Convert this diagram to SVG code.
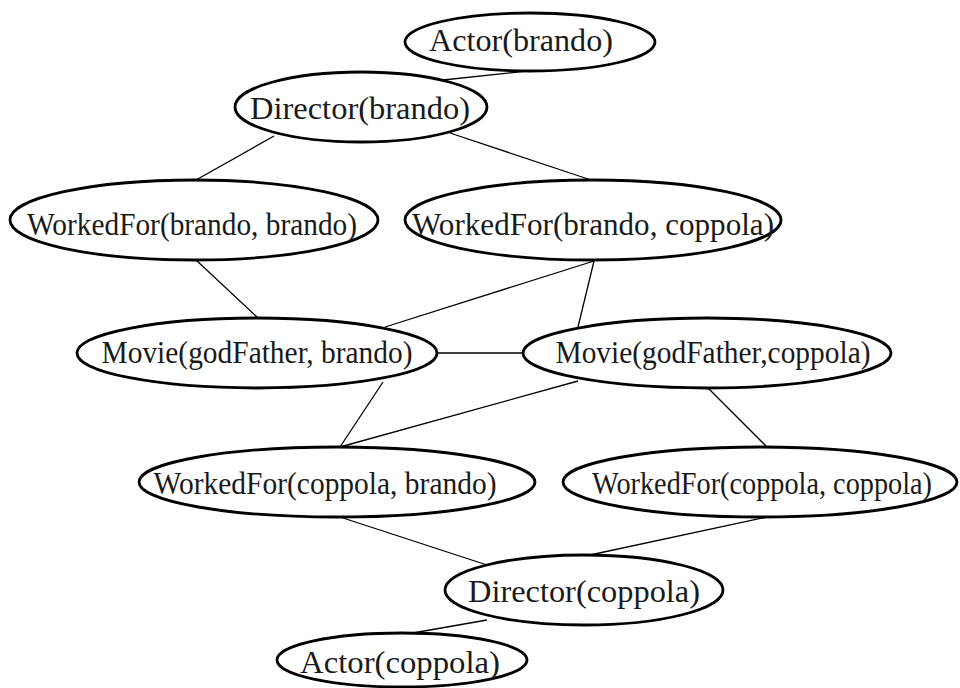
<svg xmlns="http://www.w3.org/2000/svg" width="960" height="688" viewBox="0 0 960 688">
<style>
.n ellipse{fill:#fff;stroke:#000;stroke-width:2.8}
.n text{font-family:"Liberation Serif","Times New Roman",serif;font-size:32px;fill:#1a1a1a;text-anchor:middle}
#edges line{stroke:#000;stroke-width:1.3}
</style>
<rect width="960" height="688" fill="#fff"/>
<g id="edges">
<line x1="443" y1="80" x2="527" y2="71"/>
<line x1="274" y1="136" x2="196" y2="180"/>
<line x1="450" y1="133" x2="591" y2="180"/>
<line x1="196" y1="260" x2="258" y2="318"/>
<line x1="594" y1="261" x2="385" y2="327"/>
<line x1="594" y1="261" x2="578" y2="327"/>
<line x1="437" y1="353" x2="523" y2="353"/>
<line x1="383" y1="382" x2="340" y2="447"/>
<line x1="578" y1="381" x2="340" y2="447"/>
<line x1="708" y1="388" x2="767" y2="447"/>
<line x1="340" y1="517" x2="487" y2="565"/>
<line x1="767" y1="517" x2="590" y2="555"/>
<line x1="487" y1="620" x2="407" y2="634"/>
</g>
<g id="actor_brando" class="n"><ellipse cx="530" cy="42" rx="125" ry="29"/><text x="521" y="51" textLength="184" lengthAdjust="spacingAndGlyphs">Actor(brando)</text></g>
<g id="director_brando" class="n"><ellipse cx="361" cy="107" rx="126" ry="35"/><text x="360" y="119" textLength="220" lengthAdjust="spacingAndGlyphs">Director(brando)</text></g>
<g id="workedfor_brando_brando" class="n"><ellipse cx="194" cy="220" rx="184" ry="40"/><text x="192" y="235" textLength="330" lengthAdjust="spacingAndGlyphs">WorkedFor(brando, brando)</text></g>
<g id="workedfor_brando_coppola" class="n"><ellipse cx="593" cy="220" rx="188" ry="40"/><text x="593" y="235" textLength="362" lengthAdjust="spacingAndGlyphs">WorkedFor(brando, coppola)</text></g>
<g id="movie_godfather_brando" class="n"><ellipse cx="257" cy="353" rx="180" ry="35"/><text x="257" y="363" textLength="311" lengthAdjust="spacingAndGlyphs">Movie(godFather, brando)</text></g>
<g id="movie_godfather_coppola" class="n"><ellipse cx="707" cy="353" rx="184" ry="35"/><text x="713" y="363" textLength="315" lengthAdjust="spacingAndGlyphs">Movie(godFather,coppola)</text></g>
<g id="workedfor_coppola_brando" class="n"><ellipse cx="337" cy="482" rx="198" ry="35"/><text x="325" y="494" textLength="343" lengthAdjust="spacingAndGlyphs">WorkedFor(coppola, brando)</text></g>
<g id="workedfor_coppola_coppola" class="n"><ellipse cx="760" cy="482" rx="197" ry="35"/><text x="762" y="494" textLength="340" lengthAdjust="spacingAndGlyphs">WorkedFor(coppola, coppola)</text></g>
<g id="director_coppola" class="n"><ellipse cx="584" cy="590" rx="139" ry="35"/><text x="584" y="602" textLength="232" lengthAdjust="spacingAndGlyphs">Director(coppola)</text></g>
<g id="actor_coppola" class="n"><ellipse cx="402" cy="660" rx="125" ry="27"/><text x="400" y="673" textLength="200" lengthAdjust="spacingAndGlyphs">Actor(coppola)</text></g>
</svg>
